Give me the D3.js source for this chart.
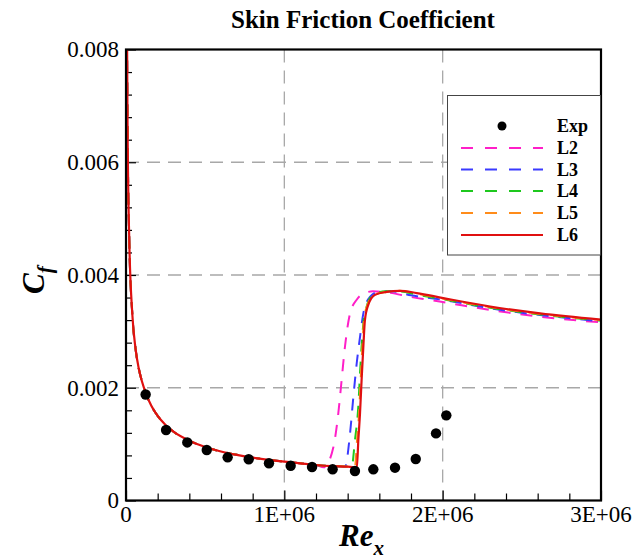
<!DOCTYPE html>
<html>
<head>
<meta charset="utf-8">
<script src="https://cdn.jsdelivr.net/npm/d3@7"></script>
<style>
  body { margin: 0; background: #fff; }
  svg text { font-family: "Liberation Serif", "Times New Roman", serif; }
</style>
</head>
<body>
<svg id="chart" width="636" height="559"></svg>
<script>
// experiment (Re_x, Cf)
var expRe = [1.24e5, 2.53e5, 3.87e5, 5.10e5, 6.42e5, 7.75e5, 9.03e5, 1.04e6, 1.175e6, 1.305e6, 1.446e6, 1.562e6, 1.699e6, 1.83e6, 1.958e6, 2.023e6];
var expCf = [0.00188, 0.00125, 0.00103, 0.000896, 0.000766, 0.000731, 0.00066, 0.000617, 0.000594, 0.000553, 0.000523, 0.000553, 0.000582, 0.000736, 0.00119, 0.00151];

// laminar part shared by all computations
var lamRe = [3e3, 6e3, 1e4, 2e4, 4e4, 6e4, 8e4, 1e5, 1.3e5, 1.6e5, 2e5, 2.5e5, 3e5, 4e5, 5e5, 6e5, 7e5, 8e5, 9e5, 1e6, 1.1e6, 1.2e6, 1.3e6, 1.4e6];
var lamCf = [0.0121, 0.0086, 0.0066, 0.0047, 0.0033, 0.0027, 0.00235, 0.00212, 0.00187, 0.00168, 0.0015, 0.00134, 0.00122, 0.00106, 0.00095, 0.00087, 0.00081, 0.00076, 0.00072, 0.00069, 0.00066, 0.00063, 0.00061, 0.0006];

// transition + turbulent part of each grid level
var l2Re = [1.25e6, 1.31e6, 1.341e6, 1.362e6, 1.383e6, 1.415e6, 1.457e6, 1.499e6, 1.56e6, 1.65e6, 1.8e6, 2.0e6, 2.3e6, 2.615e6, 3.0e6];
var l2Cf = [0.00059, 0.00095, 0.00155, 0.00214, 0.00273, 0.00332, 0.00356, 0.00367, 0.00371, 0.00369, 0.00361, 0.00352, 0.00338, 0.00326, 0.00316];
var l3Re = [1.383e6, 1.415e6, 1.436e6, 1.457e6, 1.478e6, 1.499e6, 1.541e6, 1.594e6, 1.68e6, 1.8e6, 2.0e6, 2.3e6, 2.615e6, 3.0e6];
var l3Cf = [0.0006, 0.00119, 0.00184, 0.00243, 0.0029, 0.00332, 0.00361, 0.0037, 0.00371, 0.00364, 0.00356, 0.00341, 0.00329, 0.00318];
var l4Re = [1.425e6, 1.446e6, 1.467e6, 1.478e6, 1.488e6, 1.499e6, 1.52e6, 1.562e6, 1.64e6, 1.73e6, 1.84e6, 2.0e6, 2.3e6, 2.615e6, 3.0e6];
var l4Cf = [0.00059, 0.00107, 0.00166, 0.00226, 0.00273, 0.00314, 0.00344, 0.00365, 0.00371, 0.00371, 0.00365, 0.00357, 0.00342, 0.0033, 0.00319];
var l5Re = [1.445e6, 1.46e6, 1.472e6, 1.482e6, 1.493e6, 1.503e6, 1.525e6, 1.568e6, 1.645e6, 1.73e6, 1.836e6, 2.004e6, 2.3e6, 2.615e6, 3.0e6];
var l5Cf = [0.00058, 0.0011, 0.00155, 0.00214, 0.00273, 0.0032, 0.00347, 0.00365, 0.0037, 0.00372, 0.00367, 0.00358, 0.00343, 0.00331, 0.0032];
var l6Re = [1.45e6, 1.457e6, 1.468e6, 1.478e6, 1.488e6, 1.499e6, 1.509e6, 1.53e6, 1.573e6, 1.646e6, 1.73e6, 1.836e6, 2.004e6, 2.3e6, 2.615e6, 3.0e6];
var l6Cf = [0.00058, 0.000564, 0.0011, 0.00155, 0.00214, 0.00273, 0.0032, 0.00347, 0.00365, 0.0037, 0.00372, 0.00368, 0.00359, 0.00344, 0.00332, 0.00321];

var seriesNames = ['L2', 'L3', 'L4', 'L5', 'L6'];
var seriesColors = ['#ff1fc8', '#3a3aff', '#1ec81e', '#ff8c1a', '#e01010'];
var xTicks = [0, 1e6, 2e6, 3e6];
var xTickLabels = ['0', '1E+06', '2E+06', '3E+06'];
var yTicks = [0, 0.002, 0.004, 0.006, 0.008];
var yTickLabels = ['0', '0.002', '0.004', '0.006', '0.008'];

var svg = d3.select('#chart');
// plot box (window.top is reserved, so other names)
var pL = 126, pR = 601, pT = 49.5, pB = 500.5;

var x = d3.scaleLinear().domain([0, 3e6]).range([pL, pR]);
var y = d3.scaleLinear().domain([0, 0.008]).range([pB, pT]);

// build each curve from the laminar part plus its own points
function buildSeries(re, cf) {
  var pts = [];
  for (var i = 0; i < lamRe.length; i++) {
    if (lamRe[i] < re[0]) pts.push([lamRe[i], lamCf[i]]);
  }
  for (var j = 0; j < re.length; j++) pts.push([re[j], cf[j]]);
  return pts;
}
var allSeries = [
  buildSeries(l2Re, l2Cf),
  buildSeries(l3Re, l3Cf),
  buildSeries(l4Re, l4Cf),
  buildSeries(l5Re, l5Cf),
  buildSeries(l6Re, l6Cf)
];

svg.append('defs').append('clipPath').attr('id', 'plotclip')
  .append('rect').attr('x', pL).attr('y', pT).attr('width', pR - pL).attr('height', pB - pT);

// grid
var grid = svg.append('g').attr('stroke', '#a8a8a8').attr('stroke-width', 1.3).attr('stroke-dasharray', '13,8');
grid.selectAll('.gx').data([1e6, 2e6]).enter().append('line')
  .attr('x1', d => x(d)).attr('x2', d => x(d)).attr('y1', pT).attr('y2', pB);
grid.selectAll('.gy').data([0.002, 0.004, 0.006]).enter().append('line')
  .attr('x1', pL).attr('x2', pR).attr('y1', d => y(d)).attr('y2', d => y(d));

// axes with inward ticks
var xAxis = d3.axisBottom(x).tickValues(d3.range(0, 3e6 + 1, 2e5)).tickSize(-7).tickFormat('');
var gx = svg.append('g').attr('transform', 'translate(0,' + pB + ')').call(xAxis);
gx.selectAll('.tick line').attr('stroke', '#000').attr('stroke-width', 1.2)
  .attr('y2', (d, i) => (i % 5 === 0 ? -10 : -7));
gx.select('.domain').remove();
var yAxis = d3.axisLeft(y).tickValues(d3.range(0, 0.0081, 0.0004)).tickSize(-6).tickFormat('');
var gy = svg.append('g').attr('transform', 'translate(' + pL + ',0)').call(yAxis);
gy.selectAll('.tick line').attr('stroke', '#000').attr('stroke-width', 1.2)
  .attr('x2', (d, i) => (i % 5 === 0 ? 10 : 6));
gy.select('.domain').remove();

// curves
var line = d3.line().x(d => x(d[0])).y(d => y(d[1])).curve(d3.curveMonotoneX);
var curves = svg.append('g').attr('clip-path', 'url(#plotclip)');
allSeries.forEach(function(pts, i) {
  curves.append('path').datum(pts)
    .attr('d', line)
    .attr('fill', 'none')
    .attr('stroke', seriesColors[i])
    .attr('stroke-width', i === 4 ? 2.2 : 2)
    .attr('stroke-dasharray', i === 4 ? null : '12,10');
});

// experiment dots
svg.append('g').selectAll('circle').data(expRe).enter().append('circle')
  .attr('cx', d => x(d)).attr('cy', (d, i) => y(expCf[i])).attr('r', 5.2).attr('fill', '#000');

// frame
svg.append('rect').attr('x', pL).attr('y', pT).attr('width', pR - pL).attr('height', pB - pT)
  .attr('fill', 'none').attr('stroke', '#000').attr('stroke-width', 2.2);

// tick labels
svg.append('g').selectAll('text').data(xTicks).enter().append('text')
  .attr('x', d => x(d)).attr('y', 522).attr('text-anchor', 'middle').attr('font-size', 23)
  .text((d, i) => xTickLabels[i]);
svg.append('g').selectAll('text').data(yTicks).enter().append('text')
  .attr('x', 119).attr('y', d => y(d)).attr('dy', '0.34em').attr('text-anchor', 'end').attr('font-size', 23)
  .text((d, i) => yTickLabels[i]);

// title
svg.append('text').attr('x', 363).attr('y', 28).attr('text-anchor', 'middle')
  .attr('font-size', 25).attr('font-weight', 'bold').text('Skin Friction Coefficient');

// axis titles
var xt = svg.append('text').attr('x', 339).attr('y', 546).attr('font-size', 31)
  .attr('font-weight', 'bold').attr('font-style', 'italic');
xt.append('tspan').text('Re');
xt.append('tspan').attr('font-size', 21).attr('dy', 9).text('x');

var yt = svg.append('text').attr('transform', 'translate(44,294) rotate(-90)').attr('font-size', 31)
  .attr('font-weight', 'bold').attr('font-style', 'italic');
yt.append('tspan').text('C');
yt.append('tspan').attr('font-size', 21).attr('dy', 8).text('f');

// legend
var lg = svg.append('g');
lg.append('rect').attr('x', 447.5).attr('y', 95.5).attr('width', 153).attr('height', 159.5)
  .attr('fill', '#fff').attr('stroke', '#444').attr('stroke-width', 1);
var rowY = [126, 148, 169.5, 191, 213, 235];
lg.append('circle').attr('cx', 502).attr('cy', rowY[0]).attr('r', 4.5).attr('fill', '#000');
lg.append('text').attr('x', 557).attr('y', rowY[0]).attr('dy', '0.35em').attr('font-size', 18)
  .attr('font-weight', 'bold').text('Exp');
seriesNames.forEach(function(name, i) {
  var yy = rowY[i + 1];
  lg.append('line').attr('x1', 461).attr('x2', 543).attr('y1', yy).attr('y2', yy)
    .attr('stroke', seriesColors[i]).attr('stroke-width', 2)
    .attr('stroke-dasharray', i === 4 ? null : '12,12');
  lg.append('text').attr('x', 557).attr('y', yy).attr('dy', '0.35em').attr('font-size', 18)
    .attr('font-weight', 'bold').text(name);
});
</script>
</body>
</html>
